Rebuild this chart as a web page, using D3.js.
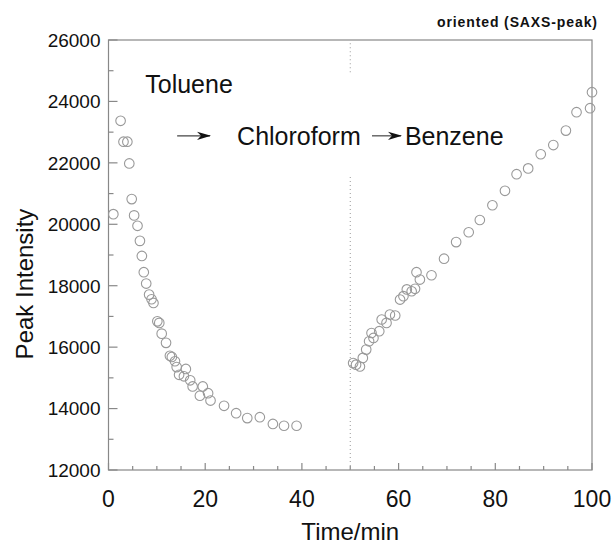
<!DOCTYPE html>
<html>
<head>
<meta charset="utf-8">
<script src="https://d3js.org/d3.v7.min.js"></script>
<style>
  body { margin: 0; background: #fff; }
  text { font-family: "Liberation Sans", Arial, sans-serif; fill: #111; }
</style>
</head>
<body>
<div id="chart"></div>
<script>
// Data
var timeA = [1.0, 2.5, 3.1, 3.9, 4.3, 4.8, 5.3, 6.0, 6.5, 6.9, 7.3, 7.8, 8.4, 8.9, 9.3,
  10.1, 10.5, 11.0, 11.9, 12.7, 13.1, 13.75, 14.1, 14.6, 15.6, 16.0, 16.9, 17.4,
  18.9, 19.5, 20.6, 21.1, 23.9, 26.4, 28.7, 31.3, 34.0, 36.3, 38.9];
var peakA = [20330, 23370, 22690, 22690, 21980, 20820, 20290, 19950, 19460, 18970, 18440, 18070, 17710, 17560, 17440,
  16840, 16790, 16440, 16140, 15720, 15680, 15540, 15350, 15100, 15050, 15290, 14920, 14720,
  14420, 14720, 14500, 14260, 14090, 13850, 13690, 13720, 13500, 13440, 13440];

var timeB = [50.6, 51.2, 52.0, 52.6, 53.3, 53.9, 54.4, 54.8, 56.0, 56.5, 57.5, 58.2, 59.3,
  60.3, 61.0, 61.7, 62.7, 63.4, 63.7, 64.4, 66.8, 69.4, 71.9, 74.5, 76.8, 79.4,
  82.0, 84.4, 86.8, 89.4, 92.0, 94.6, 96.8, 99.6, 100];
var peakB = [15480, 15430, 15370, 15650, 15920, 16190, 16460, 16300, 16520, 16900, 16790, 17060, 17030,
  17550, 17660, 17880, 17820, 17900, 18440, 18200, 18340, 18880, 19420, 19740, 20140, 20620,
  21090, 21630, 21820, 22280, 22580, 23050, 23650, 23780, 24300];

var xTicks = [0, 20, 40, 60, 80, 100];
var yTicks = [12000, 14000, 16000, 18000, 20000, 22000, 24000, 26000];

// SVG area
var svgWidth = 616;
var svgHeight = 544;

var margin = { top: 40, right: 24, bottom: 74, left: 108.5 };
var width = svgWidth - margin.left - margin.right;
var height = svgHeight - margin.top - margin.bottom;

var svg = d3.select("#chart")
  .append("svg")
  .attr("width", svgWidth)
  .attr("height", svgHeight);

var chartGroup = svg.append("g")
  .attr("transform", `translate(${margin.left}, ${margin.top})`);

// Scales
var xLinearScale = d3.scaleLinear().domain([0, 100]).range([0, width]);
var yLinearScale = d3.scaleLinear().domain([12000, 26000]).range([height, 0]);

var frameColor = "#888";

// Frame
chartGroup.append("rect")
  .attr("width", width)
  .attr("height", height)
  .attr("fill", "none")
  .attr("stroke", frameColor)
  .attr("stroke-width", 1.2);

// Minor + major ticks, drawn inward
var xMinor = d3.range(0, 101, 5);
var yMinor = d3.range(12000, 26001, 1000);

chartGroup.selectAll(".xtick")
  .data(xMinor)
  .enter()
  .append("line")
  .attr("x1", d => xLinearScale(d))
  .attr("x2", d => xLinearScale(d))
  .attr("y1", height)
  .attr("y2", d => height - (d % 20 === 0 ? 7 : 4))
  .attr("stroke", frameColor)
  .attr("stroke-width", 1.2);

chartGroup.selectAll(".ytick")
  .data(yMinor)
  .enter()
  .append("line")
  .attr("x1", 0)
  .attr("x2", d => (d % 2000 === 0 ? 9 : 5))
  .attr("y1", d => yLinearScale(d))
  .attr("y2", d => yLinearScale(d))
  .attr("stroke", frameColor)
  .attr("stroke-width", 1.2);

// Tick labels
chartGroup.selectAll(".xlabel")
  .data(xTicks)
  .enter()
  .append("text")
  .attr("x", d => xLinearScale(d))
  .attr("y", height + 37)
  .attr("text-anchor", "middle")
  .style("font-size", "23px")
  .text(d => d);

chartGroup.selectAll(".ylabel")
  .data(yTicks)
  .enter()
  .append("text")
  .attr("x", -8)
  .attr("y", d => yLinearScale(d))
  .attr("dy", "0.36em")
  .attr("text-anchor", "end")
  .style("font-size", "19px")
  .text(d => d);

// Dotted marker at t = 50, broken round the labels
var dotted = [[24950, 26000], [12000, 21665]];
chartGroup.selectAll(".vline")
  .data(dotted)
  .enter()
  .append("line")
  .attr("x1", xLinearScale(50))
  .attr("x2", xLinearScale(50))
  .attr("y1", d => yLinearScale(d[0]))
  .attr("y2", d => yLinearScale(d[1]) + 3)
  .attr("stroke", "#999")
  .attr("stroke-dasharray", "1,3");

// Points
var pointsA = timeA.map((t, i) => ({ t: t, p: peakA[i] }));
var pointsB = timeB.map((t, i) => ({ t: t, p: peakB[i] }));

chartGroup.selectAll(".pt")
  .data(pointsA.concat(pointsB))
  .enter()
  .append("circle")
  .attr("cx", d => xLinearScale(d.t))
  .attr("cy", d => yLinearScale(d.p))
  .attr("r", 4.8)
  .attr("fill", "none")
  .attr("stroke", "#999")
  .attr("stroke-width", 1.1);

// Solvent labels and arrows
svg.append("defs").append("marker")
  .attr("id", "head")
  .attr("viewBox", "0 -5 14 10")
  .attr("refX", 13)
  .attr("refY", 0)
  .attr("markerWidth", 14)
  .attr("markerHeight", 10)
  .attr("markerUnits", "userSpaceOnUse")
  .attr("orient", "auto")
  .append("path")
  .attr("d", "M0,-4.2L14,0L0,4.2L4,0Z")
  .attr("fill", "#111");

var labels = [
  { t: 7.6, p: 24280, text: "Toluene" },
  { t: 26.6, p: 22580, text: "Chloroform" },
  { t: 61.3, p: 22580, text: "Benzene" }
];
var arrows = [[14.2, 21.0], [54.5, 60.5]];

chartGroup.selectAll(".solvent")
  .data(labels)
  .enter()
  .append("text")
  .attr("x", d => xLinearScale(d.t))
  .attr("y", d => yLinearScale(d.p))
  .style("font-size", "25px")
  .text(d => d.text);

chartGroup.selectAll(".arrow")
  .data(arrows)
  .enter()
  .append("line")
  .attr("x1", d => xLinearScale(d[0]))
  .attr("x2", d => xLinearScale(d[1]))
  .attr("y1", yLinearScale(22880))
  .attr("y2", yLinearScale(22880))
  .attr("stroke", "#444")
  .attr("stroke-width", 1.2)
  .attr("marker-end", "url(#head)");

// Axis titles
svg.append("text")
  .attr("x", margin.left + xLinearScale(50))
  .attr("y", 540)
  .attr("text-anchor", "middle")
  .style("font-size", "24px")
  .text("Time/min");

svg.append("text")
  .attr("transform", "translate(33, 284) rotate(-90)")
  .attr("text-anchor", "middle")
  .style("font-size", "24px")
  .text("Peak Intensity");

svg.append("text")
  .attr("x", 597)
  .attr("y", 27)
  .attr("text-anchor", "end")
  .style("font-size", "14px")
  .style("font-weight", "bold")
  .attr("textLength", 160)
  .text("oriented (SAXS-peak)");
</script>
</body>
</html>
